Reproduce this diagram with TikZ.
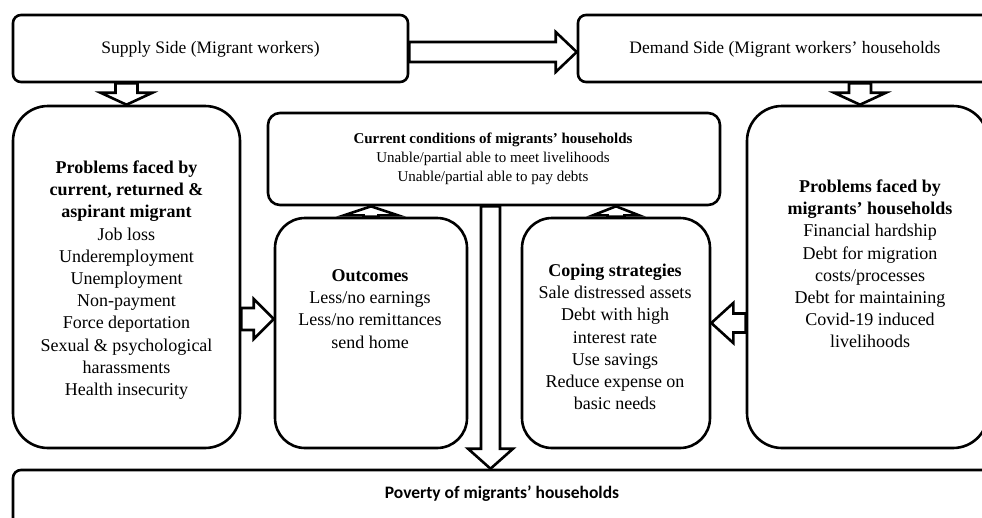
\documentclass[tikz,border=0pt]{standalone}
\usepackage{fontspec}
\setmainfont{Liberation Serif}
\newfontfamily\povfont{Carlito}
\usetikzlibrary{calc}
\tikzset{
  box/.style={draw, line width=2.6pt, fill=white, inner sep=0pt},
  txt/.style={align=center, inner sep=0pt, font=\fontsize{18}{22.2}\selectfont},
  toptxt/.style={align=center, inner sep=0pt, font=\fontsize{17.5}{21}\selectfont},
  smalltxt/.style={align=center, inner sep=0pt, font=\fontsize{15}{19}\selectfont},
  arr/.style={draw, line width=2.6pt, fill=white, line join=miter},
}
% base, tip, shaft half width, head half width, head length
\newcommand\blockarr[5]{%
  \coordinate (hb) at ($(#2)!#5!(#1)$);
  \draw[arr] ($(#1)!#3!90:(#2)$) -- ($(hb)!#3!90:(#2)$) -- ($(hb)!#4!90:(#2)$) -- (#2)
    -- ($(hb)!#4!-90:(#2)$) -- ($(hb)!#3!-90:(#2)$) -- ($(#1)!#3!-90:(#2)$) -- cycle;
}
\begin{document}
\begin{tikzpicture}[x=1pt,y=-1pt]
\useasboundingbox (0,0) rectangle (982,517);
% boxes
\node[box, rounded corners=8pt, minimum width=395pt, minimum height=67pt] (supply) at (210.5,48.5) {};
\node[box, rounded corners=8pt, minimum width=432pt, minimum height=67pt] (demand) at (794,48.5) {};
\node[box, rounded corners=35pt, minimum width=227pt, minimum height=342pt] (leftprob) at (126.5,277) {};
\node[box, rounded corners=12pt, minimum width=452pt, minimum height=92pt] (current) at (494,159) {};
\node[box, rounded corners=30pt, minimum width=192pt, minimum height=230pt] (outcomes) at (371,333) {};
\node[box, rounded corners=30pt, minimum width=188pt, minimum height=230pt] (coping) at (616,333) {};
\node[box, rounded corners=35pt, minimum width=241pt, minimum height=342pt] (rightprob) at (867.5,277) {};
\node[box, rounded corners=8pt, minimum width=997pt, minimum height=62pt] (poverty) at (511.5,501) {};
% texts
\node[toptxt] (supplyt) at (210.5,49) {Supply Side (Migrant workers)};
\node[toptxt] (demandt) at (785,49) {Demand Side (Migrant workers’ households};
\node[txt] (leftprobt) at (126.5,280) {\textbf{Problems faced by}\\\textbf{current, returned \&}\\\textbf{aspirant migrant}\\Job loss\\Underemployment\\Unemployment\\Non-payment\\Force deportation\\Sexual \& psychological\\harassments\\Health insecurity};
\node[smalltxt] (currentt) at (493,158.5) {\textbf{Current conditions of migrants’ households}\\Unable/partial able to meet livelihoods\\Unable/partial able to pay debts};
\node[txt] (outcomest) at (370,309) {\textbf{Outcomes}\\Less/no earnings\\Less/no remittances\\send home};
\node[txt] (copingt) at (615,337) {\textbf{Coping strategies}\\Sale distressed assets\\Debt with high\\interest rate\\Use savings\\Reduce expense on\\basic needs};
\node[txt] (rightprobt) at (870,264) {\textbf{Problems faced by}\\\textbf{migrants’ households}\\Financial hardship\\Debt for migration\\costs/processes\\Debt for maintaining\\Covid-19 induced\\livelihoods};
\node[inner sep=0pt, font=\povfont\bfseries\fontsize{17.5}{21}\selectfont] (povertyt) at (502,494) {Poverty of migrants’ households};
% arrow end points
\coordinate (a1b) at (leftprob.north |- supply.south);
\coordinate (a1t) at (leftprob.north);
\coordinate (a2b) at (860,0 |- demand.south);
\coordinate (a2t) at (860,0 |- rightprob.north);
\coordinate (a3b) at (supply.east |- 0,52);
\coordinate (a3t) at (demand.west |- 0,52);
\coordinate (a4b) at (outcomes.north);
\coordinate (a4t) at (outcomes.north |- current.south);
\coordinate (a5b) at (coping.north);
\coordinate (a5t) at (coping.north |- current.south);
\coordinate (a6b) at (leftprob.east |- 0,319);
\coordinate (a6t) at (outcomes.west |- 0,319);
\coordinate (a7b) at (rightprob.west |- 0,323);
\coordinate (a7t) at (coping.east |- 0,323);
\coordinate (a8b) at (490.5,0 |- current.south);
\coordinate (a8t) at (490.5,0 |- poverty.north);
% arrows
\blockarr{a1b}{a1t}{11pt}{26pt}{12pt}
\blockarr{a2b}{a2t}{11pt}{26pt}{12pt}
\blockarr{a3b}{a3t}{10pt}{20pt}{21pt}
\blockarr{a4b}{a4t}{7.5pt}{27pt}{9pt}
\blockarr{a5b}{a5t}{8.5pt}{23pt}{9pt}
\blockarr{a6b}{a6t}{11pt}{20pt}{20pt}
\blockarr{a7b}{a7t}{9.5pt}{20pt}{22pt}
\blockarr{a8b}{a8t}{9.5pt}{22.5pt}{20pt}
\end{tikzpicture}
\end{document}
